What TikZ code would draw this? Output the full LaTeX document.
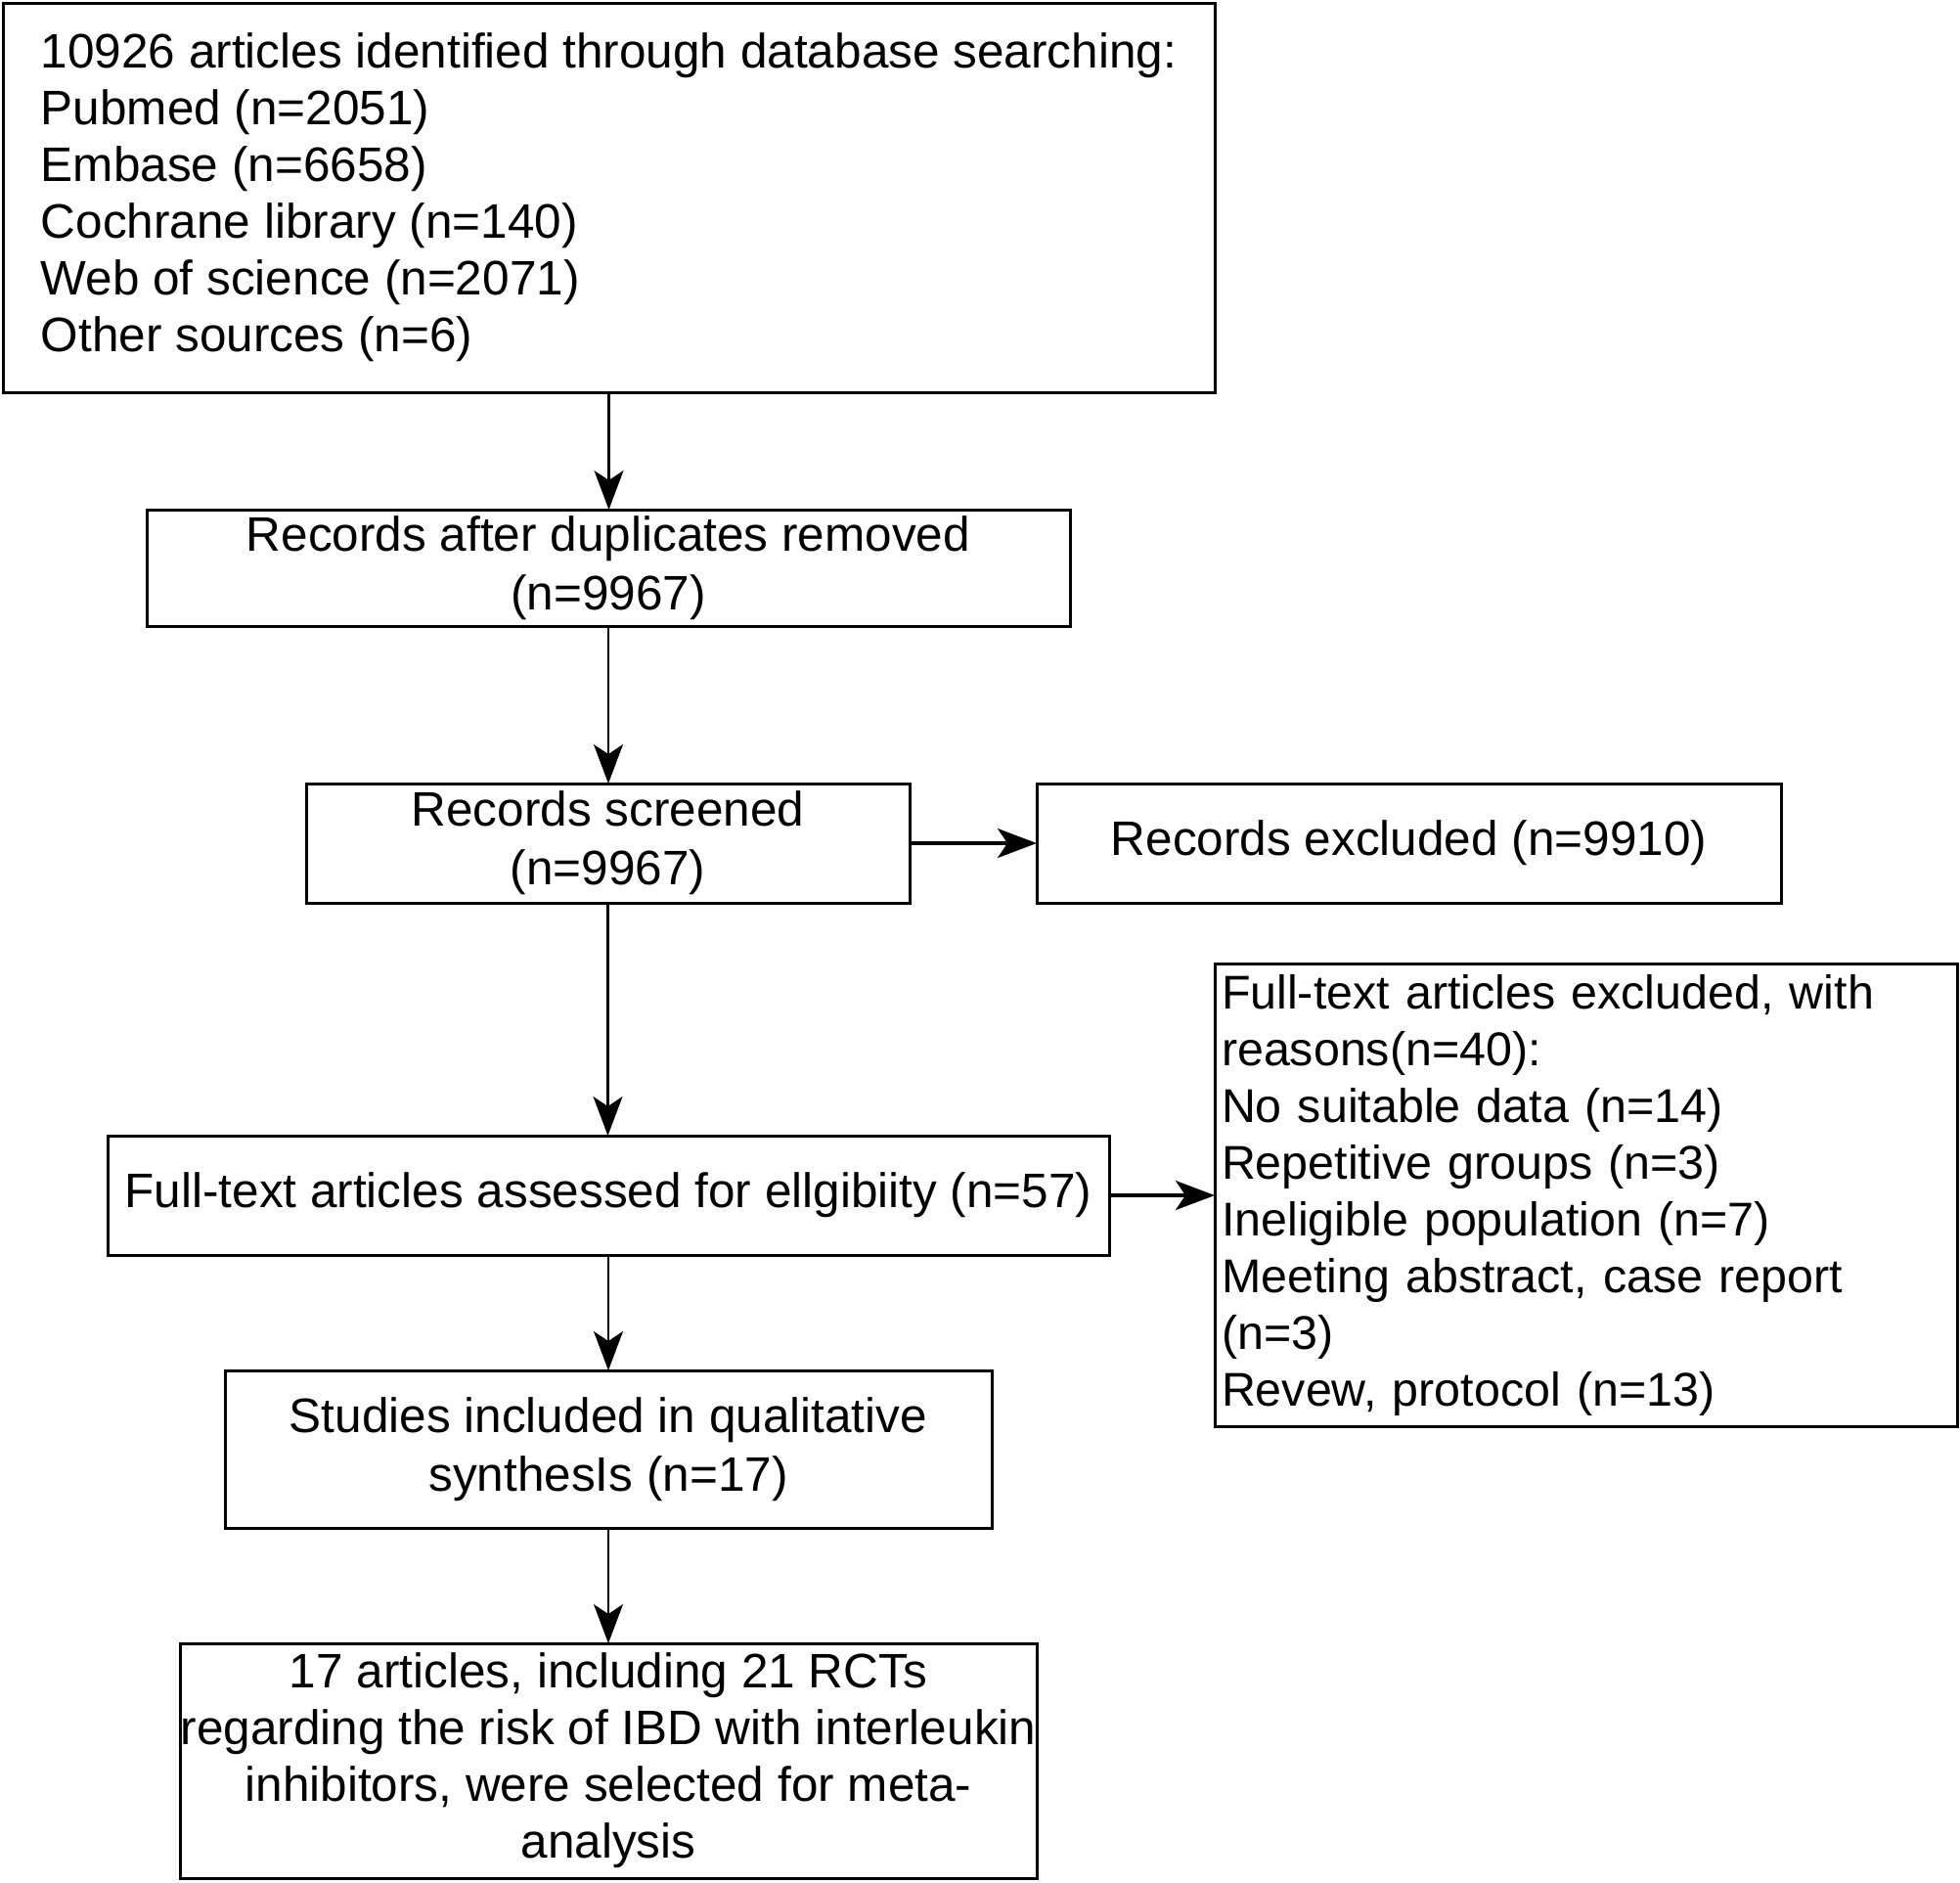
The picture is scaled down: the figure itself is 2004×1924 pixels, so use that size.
\documentclass[tikz,border=0pt]{standalone}
\usepackage{fontspec}
\setmainfont{Liberation Sans}
\usetikzlibrary{arrows.meta}
\tikzset{
  box/.style={draw=black, line width=1.5pt, rectangle, inner sep=0pt, outer sep=0pt,
    font=\fontsize{24.75pt}{29pt}\selectfont, align=center},
  twobox/.style={box, font=\fontsize{24.75pt}{30pt}\selectfont},
  lbox/.style={box, align=left},
  arr/.style={line width=1.2pt, -{Stealth[length=20pt,width=15pt,inset=5pt]}},
  harr/.style={line width=1.6pt, -{Stealth[length=20pt,width=15pt,inset=5pt]}}
}
\begin{document}
\begin{tikzpicture}[x=0.5pt,y=-0.5pt]
\useasboundingbox (0,0) rectangle (2004,1924);
\node[lbox, minimum width=619.5pt, minimum height=199pt] (b1) at (622.5,202)
 {10926 articles identified through database searching:\\
  Pubmed (n=2051)\\
  Embase (n=6658)\\
  Cochrane library (n=140)\\
  Web of science (n=2071)\\
  Other sources (n=6)};
\node[twobox, minimum width=472pt, minimum height=59.5pt] (b2) at (622,580.5)
 {Records after duplicates removed\\(n=9967)};
\node[twobox, minimum width=308.5pt, minimum height=61pt] (b3) at (621.5,862)
 {Records screened\\(n=9967)};
\node[box, minimum width=380.5pt, minimum height=61pt] (b4) at (1440.5,862)
 {Records excluded (n=9910)};
\node[box, minimum width=512pt, minimum height=61pt] (b5) at (622,1222)
 {Full-text articles assessed for ellgibiity (n=57)};
\node[lbox, font=\fontsize{24.2pt}{29pt}\selectfont, minimum width=379.5pt, minimum height=236.5pt, inner xsep=3.5pt, text width=372.5pt] (b6) at (1621.5,1221.5)
 {Full-text articles excluded, with\\
  reasons(n=40):\\
  No suitable data (n=14)\\
  Repetitive groups (n=3)\\
  Ineligible population (n=7)\\
  Meeting abstract, case report\\
  (n=3)\\
  Revew, protocol (n=13)};
\node[twobox, minimum width=392pt, minimum height=80.5pt] (b7) at (622,1481.5)
 {Studies included in qualitative\\synthesIs (n=17)};
\node[box, minimum width=438pt, minimum height=120pt] (b8) at (622,1800)
 {17 articles, including 21 RCTs\\
  regarding the risk of IBD with interleukin\\
  inhibitors, were selected for meta-\\
  analysis};
\draw[arr] (b1.south) -- (b1.south |- b2.north);
\draw[arr] (b2.south) -- (b2.south |- b3.north);
\draw[arr] (b3.south) -- (b3.south |- b5.north);
\draw[arr] (b5.south) -- (b5.south |- b7.north);
\draw[arr] (b7.south) -- (b7.south |- b8.north);
\draw[harr] (b3.east) -- (b3.east -| b4.west);
\draw[harr] (b5.east) -- (b5.east -| b6.west);
\end{tikzpicture}
\end{document}
